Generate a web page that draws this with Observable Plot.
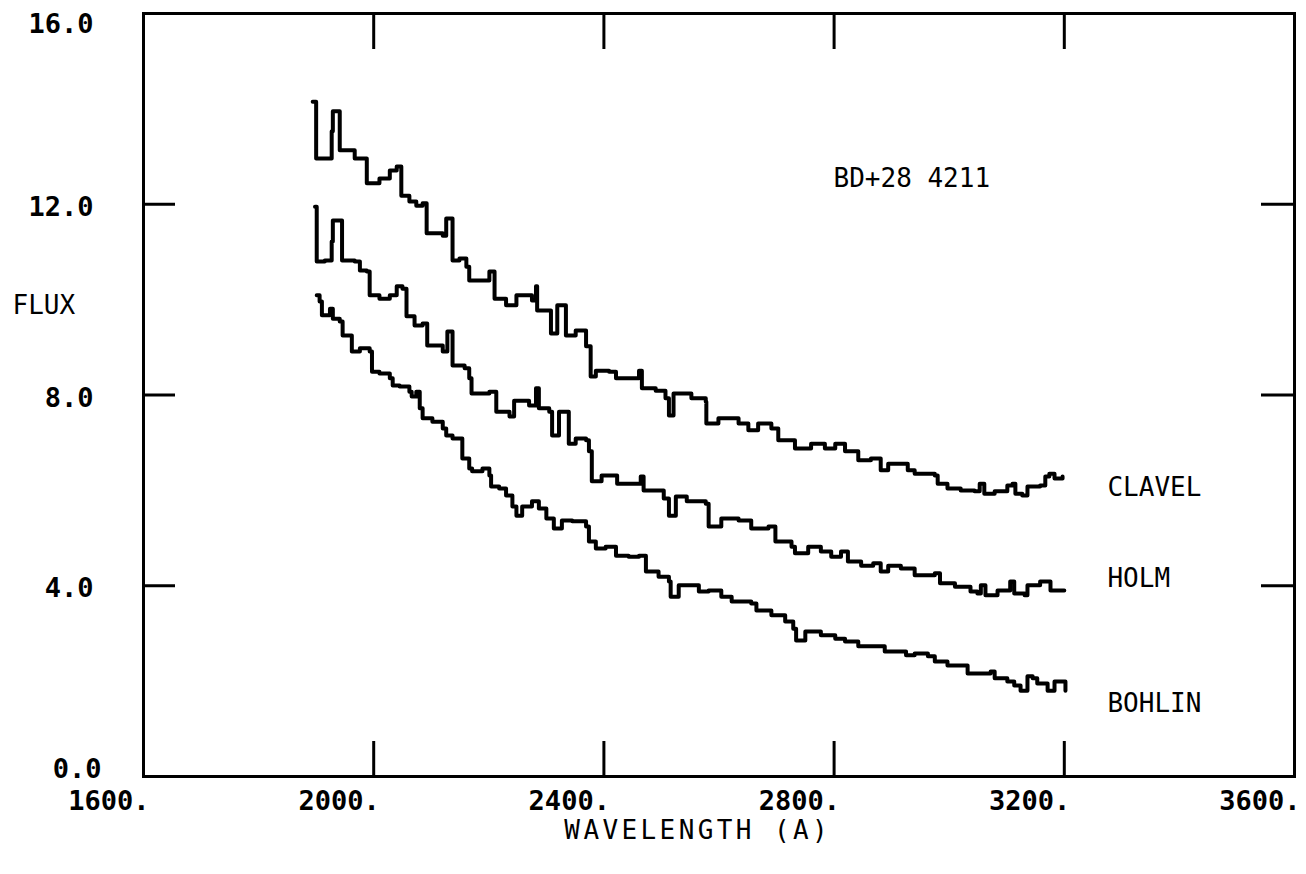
<!DOCTYPE html>
<html><head><meta charset="utf-8">
<script src="https://cdn.jsdelivr.net/npm/d3@7"></script>
<script src="https://cdn.jsdelivr.net/npm/@observablehq/plot@0.6"></script>
<style>
html,body{margin:0;padding:0;background:#fff;}
#chart{width:1306px;height:874px;}
</style></head><body><div id="chart"></div>
<script>
// ---- data (wavelength in Å, flux) ----
const clavelWl = [1894,1900,1912,1927,1929,1941,1941,1964,1967,1988,1988,2010,2028,2040,2048,2062,2074,2085,2092,2120,2126,2137,2149,2161,2166,2201,2210,2230,2248,2275,2282,2284,2305,2308,2319,2334,2351,2365,2369,2377,2386,2409,2421,2461,2466,2490,2507,2513,2521,2552,2577,2578,2599,2634,2651,2668,2691,2703,2732,2760,2784,2802,2819,2842,2864,2881,2894,2916,2928,2940,2975,2980,2997,3020,3044,3053,3061,3079,3101,3110,3115,3127,3136,3158,3167,3174,3183,3197];
const clavelFlux = [14.15,12.96,12.96,13.53,13.95,13.95,13.13,13.13,12.96,12.96,12.44,12.54,12.71,12.79,12.18,12.06,11.97,12.02,11.39,11.34,11.70,10.82,10.86,10.69,10.40,10.59,10.02,9.88,10.09,9.98,10.28,9.77,9.77,9.29,9.88,9.25,9.35,9.35,9.02,8.39,8.51,8.49,8.35,8.51,8.14,8.09,7.93,7.57,8.03,7.93,7.86,7.40,7.51,7.40,7.26,7.40,7.30,7.05,6.88,6.98,6.88,6.98,6.82,6.63,6.67,6.42,6.56,6.56,6.42,6.35,6.31,6.14,6.04,6.00,5.98,6.14,5.93,5.98,6.10,6.14,5.93,5.89,6.08,6.10,6.29,6.35,6.25,6.29];

const holmWl = [1898,1901,1915,1927,1929,1941,1945,1967,1976,1988,1993,2010,2028,2040,2050,2057,2071,2085,2093,2120,2128,2137,2158,2166,2170,2201,2213,2236,2244,2270,2282,2287,2305,2310,2322,2339,2351,2369,2374,2379,2396,2414,2423,2464,2469,2490,2504,2513,2525,2544,2577,2582,2604,2634,2656,2686,2698,2726,2732,2755,2777,2795,2812,2824,2847,2868,2881,2894,2916,2940,2975,2984,3010,3037,3049,3055,3063,3084,3106,3113,3131,3136,3158,3171,3176,3200];
const holmFlux = [11.95,10.80,10.82,11.22,11.66,11.66,10.82,10.80,10.61,10.59,10.09,10.02,10.09,10.28,10.23,9.65,9.46,9.50,9.04,8.91,9.33,8.62,8.56,8.35,8.03,8.07,7.65,7.55,7.88,7.78,8.14,7.72,7.65,7.15,7.65,6.98,7.09,7.05,6.82,6.19,6.31,6.31,6.14,6.29,6.00,6.00,5.83,5.47,5.87,5.77,5.72,5.24,5.41,5.37,5.20,5.24,4.93,4.82,4.68,4.82,4.72,4.61,4.72,4.51,4.42,4.47,4.30,4.42,4.36,4.22,4.26,4.05,3.98,3.88,3.84,4.01,3.80,3.90,4.09,3.84,3.80,4.01,4.09,4.09,3.90,3.90];

const bohlinWl = [1901,1906,1910,1924,1929,1941,1946,1958,1962,1976,1993,1997,2010,2028,2033,2045,2062,2066,2074,2080,2085,2102,2120,2126,2137,2154,2166,2171,2189,2201,2204,2218,2230,2241,2248,2258,2275,2287,2300,2313,2327,2345,2369,2374,2386,2403,2421,2443,2461,2473,2495,2513,2516,2530,2547,2565,2582,2604,2622,2656,2665,2691,2715,2729,2734,2750,2777,2802,2819,2842,2864,2888,2911,2925,2940,2963,2975,2997,3020,3032,3055,3072,3079,3101,3113,3124,3136,3145,3153,3171,3183,3193,3202];
const bohlinFlux = [10.09,9.96,9.67,9.81,9.60,9.54,9.25,9.25,8.91,8.98,8.91,8.49,8.45,8.35,8.20,8.18,8.07,7.97,8.07,7.72,7.51,7.44,7.30,7.15,7.09,6.67,6.46,6.40,6.46,6.31,6.08,6.04,5.89,5.66,5.47,5.66,5.77,5.62,5.41,5.20,5.37,5.35,5.24,4.93,4.78,4.82,4.63,4.61,4.63,4.30,4.19,4.09,3.77,4.01,4.01,3.88,3.90,3.77,3.67,3.63,3.48,3.38,3.25,3.10,2.85,3.04,2.96,2.89,2.83,2.73,2.73,2.62,2.62,2.54,2.58,2.52,2.41,2.33,2.33,2.16,2.16,2.20,2.06,1.99,1.91,1.80,2.10,2.06,1.95,1.80,1.99,1.99,1.80];

const seriesNames = ["CLAVEL", "HOLM", "BOHLIN"];
const labelWl = 3275;
const labelFlux = [6.06, 4.15, 1.53];

const xTickLabels = [1600, 2000, 2400, 2800, 3200, 3600];
const xTickMarks = [2000, 2400, 2800, 3200];
const yTickLabels = [4, 8, 12];
const yBottomLabel = [0];
const yTopLabel = [16];
const yTickMarks = [4, 8, 12];

const titleText = "BD+28 4211";
const titleWl = 2799;
const titleFlux = 12.54;
const xLabelText = "WAVELENGTH (A)";
const xLabelWl = 2563;
const yLabelText = "FLUX";
const yLabelFlux = 9.87;

// ---- build table ----
const sets = [[clavelWl, clavelFlux], [holmWl, holmFlux], [bohlinWl, bohlinFlux]];
const rows = sets.flatMap(([wl, fl], s) =>
  wl.slice(0, Math.min(wl.length, fl.length)).map((w, i) => ({series: seriesNames[s], wl: w, flux: fl[i]})));

const W = 1306, H = 874;
const mL = 143, mR = W - 1294, mT = 13, mB = H - 776;
const plotW = W - mL - mR, plotH = H - mT - mB;
const mono = "'DejaVu Sans Mono', 'Liberation Mono', monospace";
const yFmt = d => d.toFixed(1);
const tickLabelStyle = {tickSize: 0, tickPadding: 50, tickFormat: yFmt, textAnchor: "end",
  fontSize: 27, fontWeight: "bold", fill: "#000", label: null};

const chart = Plot.plot({
  width: W, height: H,
  marginLeft: mL, marginRight: mR, marginTop: mT, marginBottom: mB,
  style: {fontFamily: mono, background: "#fff", color: "#000"},
  x: {domain: [1600, 3600]},
  y: {domain: [0, 16]},
  marks: [
    Plot.frame({stroke: "#000", strokeWidth: 3}),
    // inward ticks
    Plot.tickX(xTickMarks, {x: d => d, insetTop: plotH - 35, stroke: "#000", strokeWidth: 3}),
    Plot.tickX(xTickMarks, {x: d => d, insetBottom: plotH - 36, stroke: "#000", strokeWidth: 3}),
    Plot.tickY(yTickMarks, {y: d => d, insetRight: plotW - 32, stroke: "#000", strokeWidth: 3}),
    Plot.tickY(yTickMarks, {y: d => d, insetLeft: plotW - 33, stroke: "#000", strokeWidth: 3}),
    // tick labels
    Plot.axisX(xTickLabels, {tickSize: 0, tickPadding: 14, tickFormat: d => d + ".", textAnchor: "end", dx: 6,
      fontSize: 27, fontWeight: "bold", fill: "#000", label: null}),
    Plot.axisY(yTickLabels, {...tickLabelStyle, dy: 3}),
    Plot.axisY(yTopLabel, {...tickLabelStyle, dy: 11}),
    Plot.axisY(yBottomLabel, {...tickLabelStyle, dy: -7, dx: 8}),
    // spectra
    Plot.line(rows, {x: "wl", y: "flux", z: "series", curve: "step-after", stroke: "#000", strokeWidth: 4}),
    // annotations
    Plot.text(seriesNames, {x: () => labelWl, y: (d, i) => labelFlux[i], text: d => d, textAnchor: "start",
      fontSize: 26, fill: "#000"}),
    Plot.text([titleText], {x: () => titleWl, y: () => titleFlux, text: d => d, textAnchor: "start",
      fontSize: 26, fill: "#000"}),
    Plot.text([yLabelText], {frameAnchor: "left", y: () => yLabelFlux, text: d => d, textAnchor: "start",
      dx: -131, fontSize: 26, fill: "#000"}),
    Plot.text([xLabelText], {frameAnchor: "bottom", x: () => xLabelWl, text: d => d, textAnchor: "middle",
      dy: 54, fontSize: 26, fill: "#000", lineAnchor: "middle"})
  ]
});
d3.select(chart).selectAll("text")
  .filter(function() { return this.textContent === xLabelText; })
  .style("letter-spacing", "3.4px");
document.getElementById("chart").appendChild(chart);
</script>
</body></html>
